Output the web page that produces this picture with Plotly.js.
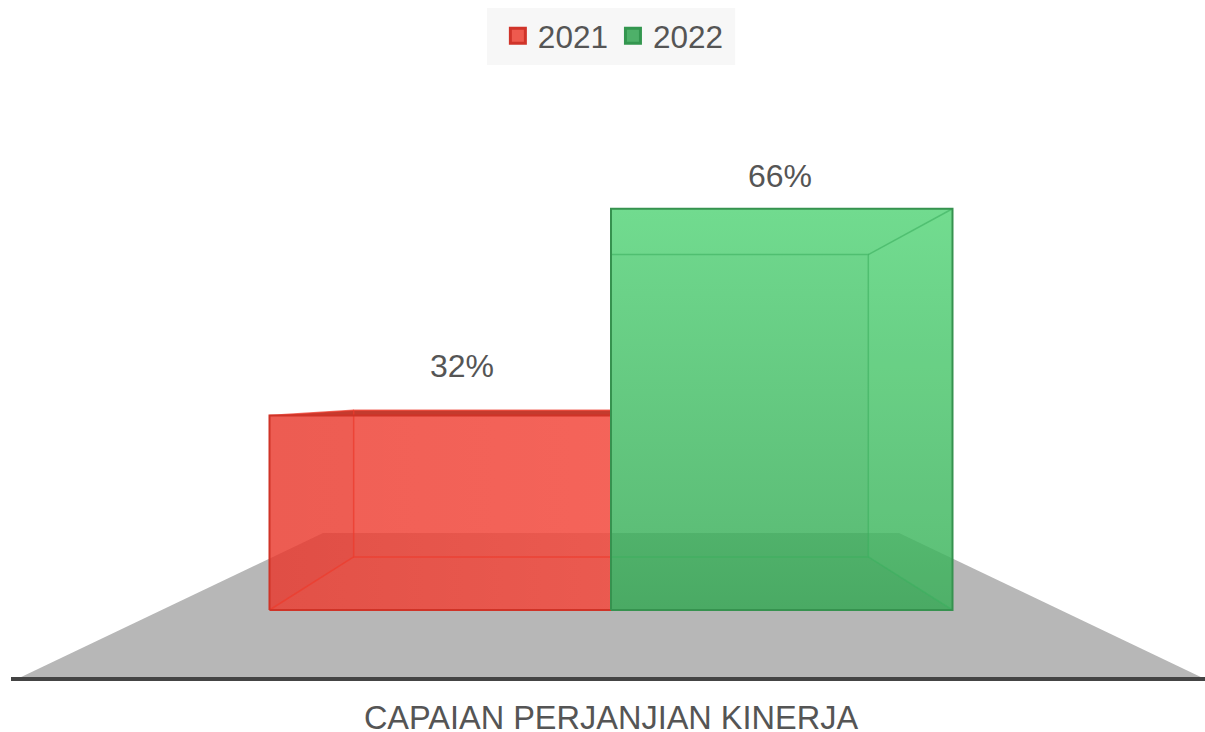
<!DOCTYPE html>
<html>
<head>
<meta charset="utf-8">
<script src="https://cdn.plot.ly/plotly-3.0.1.min.js"></script>
<style>
  html, body { margin: 0; padding: 0; background: #fff; }
</style>
</head>
<body>
<div id="chart" style="width:1205px;height:732px;"></div>
<script>
let category = 'CAPAIAN PERJANJIAN KINERJA';
let seriesNames = ['2021', '2022'];
let seriesValues = [32, 66];

let textColor = '#555555';
let fontFamily = '"Liberation Sans", Arial, sans-serif';

// x axis is in screen-sized units, 0 is the middle of the column pair
let barWidth = 341.5;
let yScale = 6.08; // px per percent

// fake perspective: back of a box is the front pulled towards the vanishing point
let depthK = 0.7535;
let vanishY = 35.4;

let floorFrontY = -11.35;
let floorBackY = 12.66;
let floorFrontHalf = 594;
let floorBackHalf = 288;

let seriesStyles = [
  {
    fill: 'rgba(236,55,42,0.8)',
    edge: '#cf3327',
    inner: 'rgba(236,60,45,0.75)',
    swatch: '#ee5a4e',
    swatchLine: '#d0342a',
    gradient: {type: 'horizontal', colorscale: [[0, 'rgba(255,110,100,0)'], [1, 'rgba(255,110,100,0.3)']]},
    topFill: '#c43b2e',
    sideFill: 'rgba(190,40,30,0.05)',
    labelShiftX: 22,
    labelShiftY: 49
  },
  {
    fill: 'rgba(46,166,79,0.8)',
    edge: '#36924f',
    inner: 'rgba(60,175,95,0.6)',
    swatch: '#4eb069',
    swatchLine: '#33964f',
    gradient: {type: 'vertical', colorscale: [[0, 'rgba(136,250,170,0)'], [1, 'rgba(136,250,170,0.5)']]},
    topFill: 'rgba(136,250,170,0.06)',
    sideFill: 'rgba(136,250,170,0.08)',
    labelShiftX: -2,
    labelShiftY: 33
  }
];

function back(x, y) {
  return [x * depthK, vanishY + (y - vanishY) * depthK];
}

function polyTrace(points, extra) {
  return Object.assign({
    x: points.map(p => p[0]),
    y: points.map(p => p[1]),
    type: 'scatter',
    mode: 'lines',
    line: {width: 0},
    fill: 'toself',
    showlegend: false,
    hoverinfo: 'skip'
  }, extra);
}

let barTraces = [];
let faceTraces = [];
let edgeTraces = [];
let legendTraces = [];
let annotations = [];

seriesValues.forEach((value, i) => {
  let style = seriesStyles[i];
  let x0 = (i - 1) * barWidth;
  let x1 = i * barWidth;
  let outerX = i === 0 ? x0 : x1;
  let innerX = i === 0 ? x1 : x0;

  barTraces.push({
    x: [(x0 + x1) / 2],
    y: [value],
    width: [barWidth],
    type: 'bar',
    name: seriesNames[i],
    showlegend: false,
    marker: {color: style.fill, line: {width: 0}},
    hovertemplate: seriesNames[i] + ': %{y}%<extra></extra>'
  });

  // shading over the front of the column
  faceTraces.push(polyTrace(
    [[x0, 0], [x1, 0], [x1, value], [x0, value], [x0, 0]],
    {fillgradient: Object.assign({start: i === 0 ? x0 : 0, stop: i === 0 ? x1 : value}, style.gradient)}
  ));

  let outerBottom = back(outerX, 0);
  let outerTop = back(outerX, value);
  let innerBottom = back(innerX, 0);
  let innerTop = back(innerX, value);

  // side panel
  faceTraces.push(polyTrace(
    [[outerX, 0], outerBottom, outerTop, [outerX, value], [outerX, 0]],
    {fillcolor: style.sideFill}
  ));
  // lid
  faceTraces.push(polyTrace(
    [[outerX, value], outerTop, innerTop, [innerX, value], [outerX, value]],
    {fillcolor: style.topFill}
  ));
  // inner edges of the box
  edgeTraces.push({
    x: [innerBottom[0], outerBottom[0], outerTop[0], innerTop[0], null, outerX, outerBottom[0], null, outerX, outerTop[0]],
    y: [innerBottom[1], outerBottom[1], outerTop[1], innerTop[1], null, 0, outerBottom[1], null, value, outerTop[1]],
    type: 'scatter',
    mode: 'lines',
    line: {color: style.inner, width: 1.5},
    showlegend: false,
    hoverinfo: 'skip'
  });
  // outline of the front
  edgeTraces.push({
    x: [x0, x1, x1, x0, x0],
    y: [0, 0, value, value, 0],
    type: 'scatter',
    mode: 'lines',
    line: {color: style.edge, width: 2},
    showlegend: false,
    hoverinfo: 'skip'
  });

  legendTraces.push({
    x: [null],
    y: [null],
    type: 'scatter',
    mode: 'markers',
    name: seriesNames[i],
    marker: {symbol: 'square', size: 15, color: style.swatch, line: {color: style.swatchLine, width: 3}}
  });

  annotations.push({
    x: (x0 + x1) / 2,
    y: value,
    xshift: style.labelShiftX,
    yshift: style.labelShiftY,
    yanchor: 'middle',
    text: value + '%',
    showarrow: false,
    font: {size: 32, color: textColor, family: fontFamily}
  });
});

let floorPath = 'M' + (-floorFrontHalf) + ',' + floorFrontY +
  'L' + floorFrontHalf + ',' + floorFrontY +
  'L' + floorBackHalf + ',' + floorBackY +
  'L' + (-floorBackHalf) + ',' + floorBackY + 'Z';

let layout = {
  width: 1205,
  height: 732,
  margin: {l: 11, r: 0, t: 0, b: 55},
  paper_bgcolor: '#ffffff',
  plot_bgcolor: 'rgba(0,0,0,0)',
  barmode: 'overlay',
  showlegend: true,
  legend: {
    orientation: 'h',
    x: 0.5045,
    xanchor: 'center',
    y: 0.947,
    yanchor: 'middle',
    bgcolor: 'rgba(0,0,0,0)',
    itemwidth: 30,
    font: {size: 31.5, color: textColor, family: fontFamily}
  },
  xaxis: {
    range: [-600, 594],
    tickmode: 'array',
    tickvals: [0],
    ticktext: [category],
    ticks: '',
    ticklabelstandoff: 9,
    showgrid: false,
    zeroline: false,
    showline: true,
    linecolor: '#444444',
    linewidth: 4,
    tickfont: {size: 32.5, color: textColor, family: fontFamily},
    fixedrange: true
  },
  yaxis: {
    range: [-67 / yScale, 610 / yScale],
    visible: false,
    fixedrange: true
  },
  shapes: [
    {type: 'rect', xref: 'paper', yref: 'paper', x0: 0.3987, x1: 0.6065, y0: 0.904, y1: 0.988,
      fillcolor: '#f7f7f7', line: {width: 0}, layer: 'below'},
    {type: 'path', xref: 'x', yref: 'y', path: floorPath, fillcolor: '#b7b7b7', line: {width: 0}, layer: 'below'}
  ],
  annotations: annotations
};

Plotly.newPlot('chart', barTraces.concat(faceTraces, edgeTraces, legendTraces), layout, {displayModeBar: false});
</script>
</body>
</html>
